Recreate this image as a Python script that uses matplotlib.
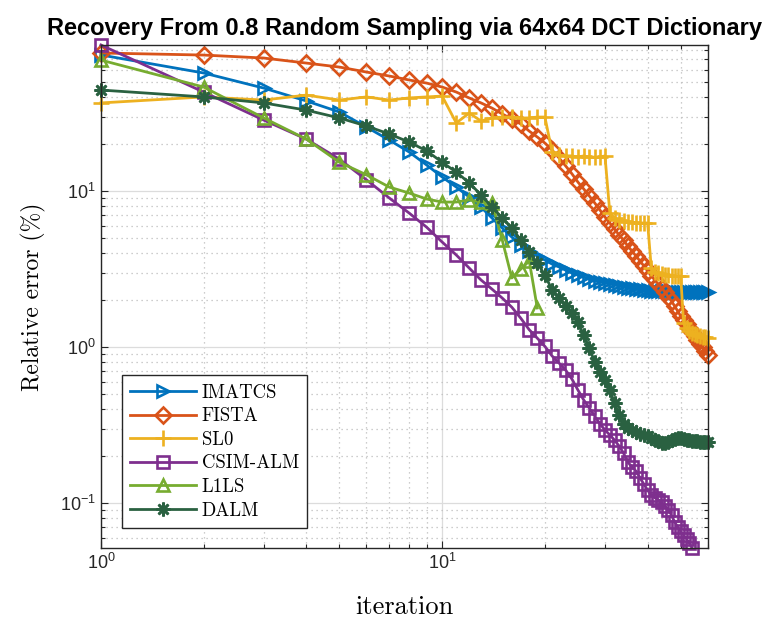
import matplotlib
matplotlib.use('Agg')
import matplotlib.pyplot as plt
from matplotlib.ticker import NullFormatter

plt.rcParams['font.family'] = ['Liberation Sans', 'DejaVu Sans']

# relative error (%) per iteration
imatcs = [74.5, 57.1, 45.7, 37.8, 32.1, 25.7, 21.2, 17.8, 14.7, 12.3,
          10.6, 9.16, 7.89, 6.71, 5.79, 5.07, 4.51, 4.12, 3.83, 3.61,
          3.40, 3.26, 3.11, 2.98, 2.89, 2.81, 2.73, 2.65, 2.61, 2.57,
          2.53, 2.50, 2.46, 2.42, 2.39, 2.38, 2.35, 2.34, 2.32, 2.31,
          2.30, 2.29, 2.29, 2.28, 2.28, 2.27, 2.27, 2.26, 2.26, 2.26,
          2.25, 2.25, 2.25, 2.25, 2.24, 2.24, 2.24, 2.24, 2.24, 2.24]
fista = [76.7, 74.4, 71.2, 66.1, 62.3, 57.9, 54.6, 51.5, 49.2, 46.4,
         43.1, 39.5, 36.7, 34.0, 31.2, 28.9, 26.9, 24.2, 22.2, 20.3,
         18.3, 16.3, 14.5, 12.9, 11.4, 10.3, 9.29, 8.38, 7.55, 6.81,
         6.24, 5.71, 5.22, 4.85, 4.44, 4.12, 3.83, 3.56, 3.31, 3.07,
         2.85, 2.69, 2.53, 2.39, 2.25, 2.09, 1.97, 1.83, 1.70, 1.58,
         1.49, 1.40, 1.32, 1.25, 1.18, 1.11, 1.05, 1.00, 0.943, 0.889]
sl0 = [36.7, 40.1, 38.3, 41.2, 38.3, 40.1, 38.3, 39.5, 40.1, 40.6,
       27.3, 31.6, 28.1, 29.4, 29.8, 29.8, 29.4, 29.4, 29.8, 29.8,
       17.8, 17.0, 16.8, 16.8, 16.5, 16.8, 16.5, 16.5, 16.5, 16.8,
       7.23, 6.71, 6.52, 6.42, 6.33, 6.33, 6.24, 6.24, 6.24, 6.24,
       3.21, 3.03, 2.98, 2.94, 2.89, 2.89, 2.85, 2.85, 2.85, 2.85,
       1.42, 1.32, 1.27, 1.23, 1.21, 1.19, 1.18, 1.16, 1.16, 1.14]
csim_alm = [86.3, 43.1, 28.5, 21.5, 16.0, 11.8, 9.02, 7.23, 5.87, 4.71,
            3.89, 3.21, 2.69, 2.35, 2.06, 1.80, 1.53, 1.29, 1.14, 1.01,
            0.876, 0.790, 0.712, 0.624, 0.530, 0.457, 0.406, 0.361, 0.321, 0.294,
            0.273, 0.253, 0.232, 0.209, 0.183, 0.170, 0.160, 0.145, 0.132, 0.121,
            0.112, 0.108, 0.105, 0.101, 0.0957, 0.0902, 0.0838, 0.0755, 0.0702, 0.0661,
            0.0624, 0.0588, 0.0554, 0.0515]
l1ls = [69.1, 46.4, 29.4, 21.5, 15.3, 12.7, 10.6, 9.71, 8.89, 8.50,
        8.50, 8.76, 8.50, 8.38, 4.85, 2.77, 3.16, 3.56, 1.78]
dalm = [44.4, 40.1, 36.7, 33.0, 29.4, 26.1, 23.2, 20.6, 18.1, 15.3,
        13.2, 11.3, 9.43, 7.90, 6.71, 5.79, 4.85, 4.06, 3.46, 2.89,
        2.32, 2.06, 1.83, 1.65, 1.45, 1.19, 0.985, 0.801, 0.691, 0.615,
        0.530, 0.438, 0.366, 0.321, 0.303, 0.294, 0.285, 0.277, 0.273, 0.269,
        0.261, 0.253, 0.250, 0.242, 0.242, 0.246, 0.253, 0.257, 0.261, 0.261,
        0.257, 0.253, 0.253, 0.250, 0.250, 0.250, 0.246, 0.246, 0.246, 0.246]

series = [
    ('IMATCS', imatcs, '#0072BD', '>'),
    ('FISTA', fista, '#D95319', 'D'),
    ('SL0', sl0, '#EDB120', '+'),
    ('CSIM-ALM', csim_alm, '#7E2F8E', 's'),
    ('L1LS', l1ls, '#77AC30', '^'),
    ('DALM', dalm, '#2A6141', (8, 2, 0)),
]
sizes = {'>': 9, 'D': 8, '+': 11, 's': 8, '^': 9}

fig = plt.figure(figsize=(7.82, 6.25), dpi=100)
ax = fig.add_axes([0.129, 0.1232, 0.776, 0.8048])

for name, vals, col, mk in series:
    it = range(1, len(vals) + 1)
    ms = sizes.get(mk, 10) if isinstance(mk, str) else 10
    ax.plot(it, vals, color=col, lw=2, marker=mk, ms=ms, mew=1.9,
            mfc='none', mec=col, label=name, clip_on=False)

ax.set_xscale('log')
ax.set_yscale('log')
allv = imatcs + fista + sl0 + csim_alm + l1ls + dalm
ax.set_xlim(1, 60)
ax.set_ylim(min(allv), max(allv))

ax.set_axisbelow(True)
ax.grid(True, which='major', color='#dcdcdc', lw=0.9, ls='-')
ax.grid(True, which='minor', color='#bdbdbd', lw=0.9, ls=(0, (1, 3)))
ax.xaxis.set_minor_formatter(NullFormatter())
ax.yaxis.set_minor_formatter(NullFormatter())

ax.tick_params(which='both', direction='in', top=True, right=True,
               color='#262626', labelcolor='#262626', labelsize=13)
ax.tick_params(which='major', length=5, width=0.8)
ax.tick_params(which='minor', length=3, width=0.8)
for sp in ax.spines.values():
    sp.set_color('#262626')
    sp.set_linewidth(1)

ax.set_xlabel('iteration', fontfamily='cmr10', fontsize=19, labelpad=16)
ax.set_ylabel('Relative error (%)', fontfamily='cmr10', fontsize=17, labelpad=10)
ax.set_title('Recovery From 0.8 Random Sampling via 64x64 DCT Dictionary',
             fontsize=17, fontweight='bold', pad=7)

leg = ax.legend(loc='lower left', bbox_to_anchor=(0.0346, 0.0398), borderaxespad=0,
                prop={'family': 'cmr10', 'size': 13.5}, fancybox=False,
                framealpha=1, edgecolor='#262626', handlelength=3.5,
                handletextpad=0.3, labelspacing=0.3, borderpad=0.45)
leg.get_frame().set_linewidth(1)

plt.savefig('out.png', dpi=100)
